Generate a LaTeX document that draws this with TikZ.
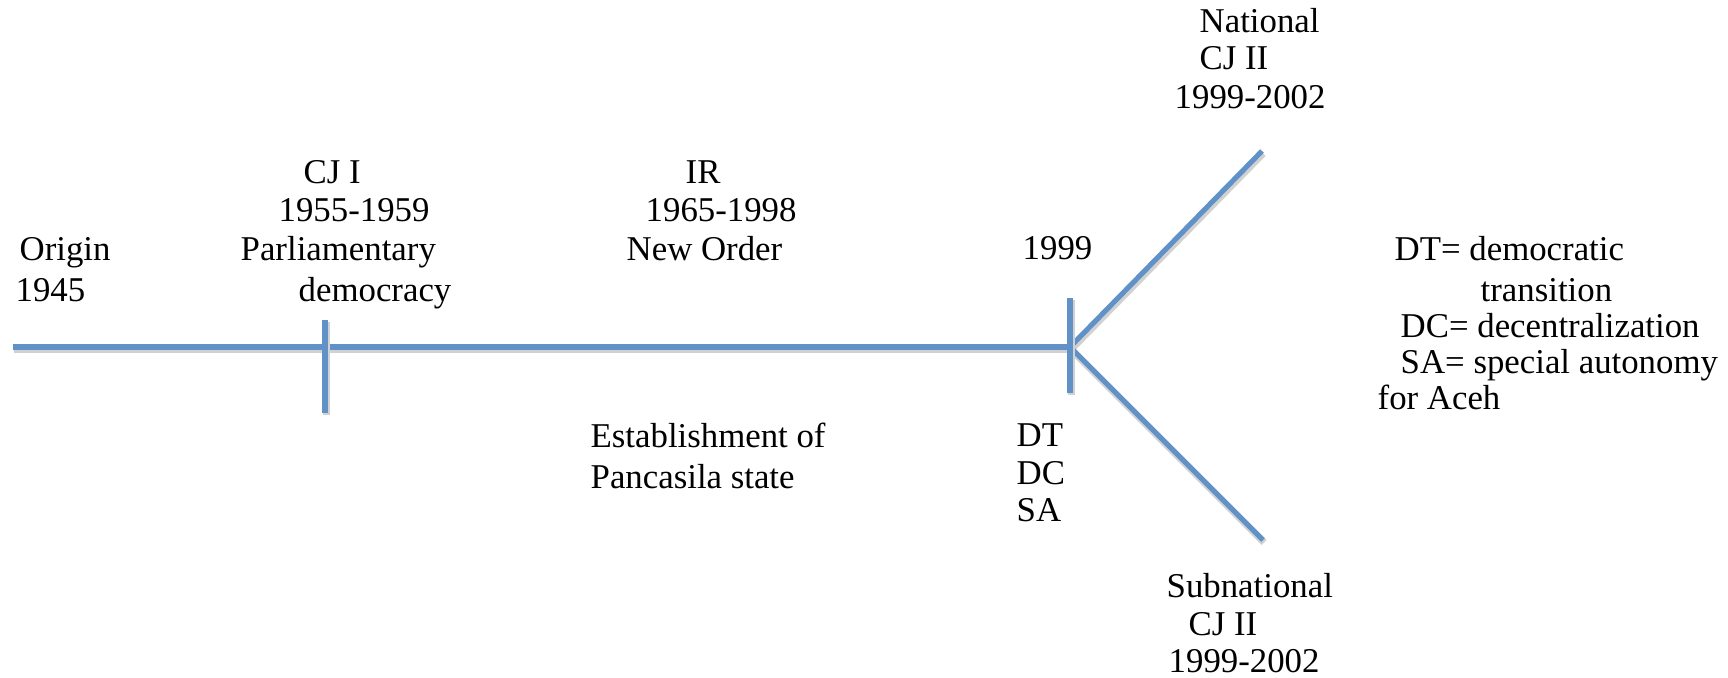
\documentclass[tikz,border=0pt]{standalone}
\usepackage{fontspec}
\setmainfont{Liberation Serif}
\definecolor{lineblue}{RGB}{96,146,200}
\tikzset{
  tline/.style={draw=lineblue, line width=1.45pt,
    preaction={draw=black!18, line width=2pt, transform canvas={shift={(0.3pt,-0.7pt)}}}},
  lbl/.style={anchor=base west, inner sep=0pt, font=\fontsize{9.9pt}{11pt}\selectfont}
}

\begin{document}
\begin{tikzpicture}
\useasboundingbox (0,0) rectangle (17.28,6.77);
% timeline points
\coordinate (start) at (0.13,3.30);
\coordinate (cjone) at (3.25,3.30);
\coordinate (split) at (10.70,3.30);
\coordinate (natend) at (12.62,5.26);
\coordinate (subend) at (12.63,1.37);
% lines
\draw[tline] (start) -- (split);
\draw[tline] (split) -- (natend);
\draw[tline] (split) -- (subend);
% ticks
\draw[tline] ([yshift=0.27cm]cjone) -- ([yshift=-0.66cm]cjone);
\draw[tline] ([yshift=0.49cm]split) -- ([yshift=-0.46cm]split);
% origin
\node[lbl] (origin) at (0.19,4.17) {Origin};
\node[lbl] (origyear) at (0.15,3.76) {1945};
% CJ I
\node[lbl] (cjonename) at (3.03,4.94) {CJ I};
\node[lbl] (cjoneyear) at (2.78,4.56) {1955-1959};
\node[lbl] (parl) at (2.40,4.17) {Parliamentary};
\node[lbl] (demo) at (2.98,3.76) {democracy};
% IR
\node[lbl] (irname) at (6.85,4.94) {IR};
\node[lbl] (iryear) at (6.45,4.56) {1965-1998};
\node[lbl] (neworder) at (6.26,4.17) {New Order};
\node[lbl] (estab) at (5.90,2.30) {Establishment of};
\node[lbl] (pancasila) at (5.90,1.89) {Pancasila state};
% 1999
\node[lbl] (splityear) at (10.22,4.18) {1999};
\node[lbl] (dt) at (10.16,2.31) {DT};
\node[lbl] (dc) at (10.16,1.93) {DC};
\node[lbl] (sa) at (10.16,1.56) {SA};
% national branch
\node[lbl] (natname) at (11.99,6.45) {National};
\node[lbl] (natcj) at (11.99,6.08) {CJ II};
\node[lbl] (natyear) at (11.74,5.69) {1999-2002};
% subnational branch
\node[lbl] (subname) at (11.66,0.80) {Subnational};
\node[lbl] (subcj) at (11.88,0.42) {CJ II};
\node[lbl] (subyear) at (11.68,0.05) {1999-2002};
% legend
\node[lbl] (keydt) at (13.94,4.17) {DT= democratic};
\node[lbl] (keydtb) at (14.80,3.76) {transition};
\node[lbl] (keydc) at (14.00,3.40) {DC= decentralization};
\node[lbl] (keysa) at (14.00,3.04) {SA= special autonomy};
\node[lbl] (keysab) at (13.77,2.68) {for Aceh};
\end{tikzpicture}
\end{document}
